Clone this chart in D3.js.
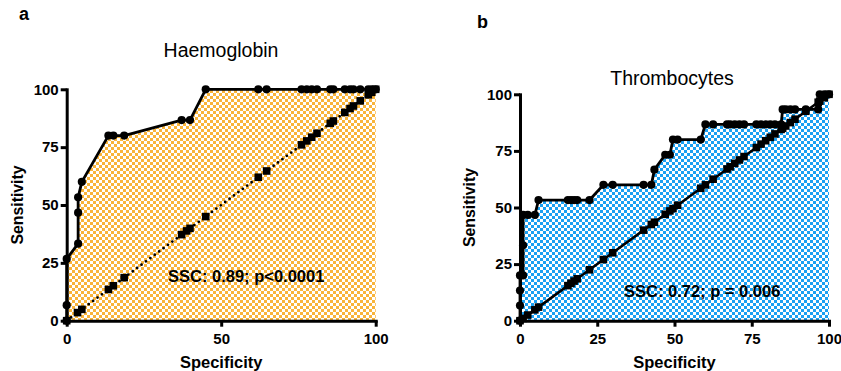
<!DOCTYPE html>
<html>
<head>
<meta charset="utf-8">
<script src="https://cdn.jsdelivr.net/npm/d3@7"></script>
<style>
  body { margin: 0; background: #fff; }
  svg { display: block; font-family: "Liberation Sans", Arial, sans-serif; }
  .axis path, .axis line { stroke: #000; stroke-width: 3; }
  .axis text { font-size: 15px; font-weight: bold; fill: #000; }
</style>
</head>
<body>
<svg width="841" height="371"></svg>
<script>
// panel a - haemoglobin ROC
const specA = [0, 0, 0, 3.7, 3.7, 3.7, 4.9, 13.5, 15.1, 18.6, 37.2, 39.9, 45, 62, 64.7, 76, 77.7, 79.3, 81, 85.3, 86.3, 90, 91.7, 92.8, 95, 97.6, 98.7, 100];
const sensA = [0, 6.7, 26.7, 33.3, 46.7, 53.3, 60, 80, 80, 80, 86.7, 86.7, 100, 100, 100, 100, 100, 100, 100, 100, 100, 100, 100, 100, 100, 100, 100, 100];
const refA = [0, 3.5, 4.9, 13.5, 15.1, 18.6, 37.2, 38.8, 39.9, 45, 62, 64.7, 76, 77.7, 79.3, 81, 85.3, 86.3, 90, 91.7, 92.8, 95, 97.6, 98.7, 100];

// panel b - thrombocytes ROC
const specB = [0, 0, 0, 0, 1, 1, 1, 2.5, 4.8, 6, 15.5, 16.5, 17.5, 18.5, 22.5, 27, 30, 40, 42.5, 43.5, 47, 48.5, 49.5, 51, 58.5, 60, 62.5, 67, 68, 69.5, 71, 72.5, 76.5, 78, 79.5, 81, 82.5, 84.5, 85, 86, 87.5, 89, 92.5, 96.5, 97, 98.5, 100];
const sensB = [0, 6.7, 13.3, 20, 20, 33.3, 46.7, 46.7, 46.7, 53.3, 53.3, 53.3, 53.3, 53.3, 53.3, 60, 60, 60, 60, 66.7, 73.3, 73.3, 80, 80, 80, 86.7, 86.7, 86.7, 86.7, 86.7, 86.7, 86.7, 86.7, 86.7, 86.7, 86.7, 86.7, 86.7, 93.3, 93.3, 93.3, 93.3, 93.3, 93.3, 100, 100, 100];
const refB = [0, 1, 2.5, 4.8, 6, 15.5, 16.5, 17.5, 18.5, 22.5, 27, 30, 40, 42.5, 43.5, 47, 48.5, 49.5, 51, 58.5, 60, 62.5, 67, 68, 69.5, 71, 72.5, 76.5, 78, 79.5, 81, 82.5, 84.5, 85, 86, 87.5, 89, 92.5, 96.5, 97, 98.5, 100];

const svg = d3.select("svg");
const defs = svg.append("defs");

function checker(id, color) {
  const p = defs.append("pattern")
    .attr("id", id)
    .attr("patternUnits", "userSpaceOnUse")
    .attr("width", 6)
    .attr("height", 6);
  p.append("rect").attr("width", 6).attr("height", 6).attr("fill", "#fff");
  p.append("rect").attr("width", 3).attr("height", 3).attr("fill", color);
  p.append("rect").attr("x", 3).attr("y", 3).attr("width", 3).attr("height", 3).attr("fill", color);
}
checker("pa", "#f9b43a");
checker("pb", "#1aa0f2");

function panel(cfg) {
  const x = d3.scaleLinear().domain([0, 100]).range(cfg.xr);
  const y = d3.scaleLinear().domain([0, 100]).range([320.7, cfg.top]);
  const pts = cfg.spec.map((s, i) => [s, cfg.sens[i]]);
  const g = svg.append("g");

  g.append("path")
    .datum(pts)
    .attr("fill", `url(#${cfg.pattern})`)
    .attr("d", d3.area().x((d) => x(d[0])).y0(y(0)).y1((d) => y(d[1])));

  // reference diagonal
  g.append("path")
    .datum(cfg.ref)
    .attr("fill", "none")
    .attr("stroke", "#000")
    .attr("stroke-width", cfg.dotted ? 2.8 : 2.6)
    .attr("stroke-linecap", cfg.dotted ? "round" : "butt")
    .attr("stroke-dasharray", cfg.dotted ? "0 5.5" : null)
    .attr("d", d3.line().x((d) => x(d)).y((d) => y(d)));

  g.selectAll(".sq")
    .data(cfg.ref)
    .join("rect")
    .attr("x", (d) => x(d) - 3.8)
    .attr("y", (d) => y(d) - 3.8)
    .attr("width", 7.6)
    .attr("height", 7.6)
    .attr("fill", "#000");

  g.append("path")
    .datum(pts)
    .attr("fill", "none")
    .attr("stroke", "#000")
    .attr("stroke-width", 2.8)
    .attr("stroke-linejoin", "round")
    .attr("d", d3.line().x((d) => x(d[0])).y((d) => y(d[1])));

  g.selectAll(".pt")
    .data(pts)
    .join("circle")
    .attr("cx", (d) => x(d[0]))
    .attr("cy", (d) => y(d[1]))
    .attr("r", 4.1)
    .attr("fill", "#000");

  g.append("g")
    .attr("class", "axis")
    .attr("transform", `translate(0,${y(0)})`)
    .call(d3.axisBottom(x).tickValues(cfg.xticks).tickSize(6).tickSizeOuter(0).tickPadding(4))
    .call((a) => a.selectAll("text").attr("dy", "0.9em"));

  g.append("g")
    .attr("class", "axis")
    .attr("transform", `translate(${x(0)},0)`)
    .call(d3.axisLeft(y).tickValues([0, 25, 50, 75, 100]).tickSize(6).tickSizeOuter(0).tickPadding(2));

  g.selectAll(".axis path").attr("stroke-linecap", "square");

  g.append("text")
    .attr("x", cfg.titleX)
    .attr("y", cfg.titleY)
    .attr("text-anchor", "middle")
    .attr("font-size", 19.5)
    .text(cfg.title);

  g.append("text")
    .attr("x", cfg.letterX)
    .attr("y", cfg.letterY)
    .attr("font-size", 18)
    .attr("font-weight", "bold")
    .text(cfg.letter);

  g.append("text")
    .attr("x", (cfg.xr[0] + cfg.xr[1]) / 2)
    .attr("y", 368)
    .attr("text-anchor", "middle")
    .attr("font-size", 16.5)
    .attr("font-weight", "bold")
    .text("Specificity");

  g.append("text")
    .attr("transform", `translate(${cfg.ylabX},${(320.7 + cfg.top) / 2}) rotate(-90)`)
    .attr("text-anchor", "middle")
    .attr("font-size", 15.8)
    .attr("font-weight", "bold")
    .text("Sensitivity");

  g.append("text")
    .attr("x", cfg.statX)
    .attr("y", cfg.statY)
    .attr("font-size", 16.5)
    .attr("font-weight", "bold")
    .text(cfg.stat);
}

panel({
  xr: [66.7, 375.7], top: 89.3, spec: specA, sens: sensA, ref: refA, dotted: true,
  pattern: "pa", xticks: [0, 50, 100], title: "Haemoglobin", titleX: 221, titleY: 57,
  letter: "a", letterX: 19, letterY: 20, ylabX: 23,
  stat: "SSC: 0.89; p<0.0001", statX: 168, statY: 282
});

panel({
  xr: [520, 829], top: 94.3, spec: specB, sens: sensB, ref: refB, dotted: false,
  pattern: "pb", xticks: [0, 25, 50, 75, 100], title: "Thrombocytes", titleX: 672, titleY: 85,
  letter: "b", letterX: 477, letterY: 28, ylabX: 475,
  stat: "SSC: 0.72; p = 0.006", statX: 624, statY: 297
});
</script>
</body>
</html>
